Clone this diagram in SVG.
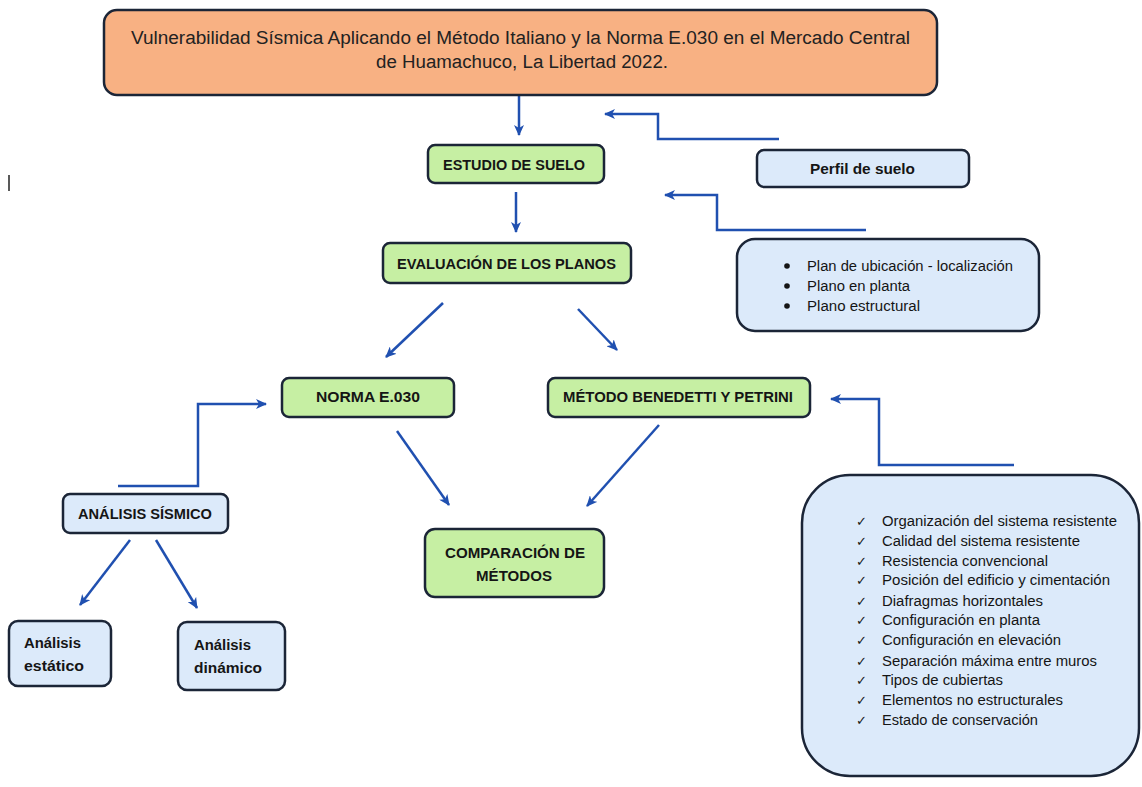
<svg xmlns="http://www.w3.org/2000/svg" width="1142" height="787" viewBox="0 0 1142 787">
<style>
.box{stroke:#1b2537;stroke-width:2.5}
.green{fill:#c6efa3}
.blue{fill:#dceafa}
.orange{fill:#f8b183}
.t{font-family:"Liberation Sans",Arial,sans-serif;fill:#151515}
.b{font-weight:bold;font-size:14px}
.n{font-size:14px}
.title{font-size:18px;fill:#222}
.ck{font-family:"DejaVu Sans",sans-serif;font-size:13px;font-weight:bold;fill:#1a1a1a}
.con{fill:none;stroke:#2050b0;stroke-width:2.5}
</style>
<defs>
<marker id="ah" markerUnits="userSpaceOnUse" markerWidth="12" markerHeight="10" refX="10" refY="5" orient="auto">
<path d="M0,0 L11,5 L0,10 L3,5 Z" fill="#2050b0"/>
</marker>
</defs>
<rect x="0" y="0" width="1142" height="787" fill="#ffffff"/>
<line x1="9" y1="175" x2="9" y2="191" stroke="#222" stroke-width="1.5"/>

<g id="connectors">
<path class="con" d="M519,95 L519,135" marker-end="url(#ah)"/>
<path class="con" d="M779,139 L658,139 L658,114 L605,114" marker-end="url(#ah)"/>
<path class="con" d="M516,192 L516,232" marker-end="url(#ah)"/>
<path class="con" d="M866,230 L717,230 L717,195 L665,195" marker-end="url(#ah)"/>
<path class="con" d="M443,303 L386,357" marker-end="url(#ah)"/>
<path class="con" d="M578,309 L617,350" marker-end="url(#ah)"/>
<path class="con" d="M1014,465 L879,465 L879,399 L831,399" marker-end="url(#ah)"/>
<path class="con" d="M118,486 L198,486 L198,404 L266,404" marker-end="url(#ah)"/>
<path class="con" d="M397,431 L449,505" marker-end="url(#ah)"/>
<path class="con" d="M659,425 L587,506" marker-end="url(#ah)"/>
<path class="con" d="M130,540 L80,605" marker-end="url(#ah)"/>
<path class="con" d="M156,540 L197,608" marker-end="url(#ah)"/>
</g>

<g id="title">
<rect class="box orange" x="104" y="10" width="833" height="85" rx="13"/>
<text class="t title" x="131" y="44" textLength="779" lengthAdjust="spacingAndGlyphs">Vulnerabilidad Sísmica Aplicando el Método Italiano y la Norma E.030 en el Mercado Central</text>
<text class="t title" x="376" y="68" textLength="292" lengthAdjust="spacingAndGlyphs">de Huamachuco, La Libertad 2022.</text>
</g>

<g id="estudio">
<rect class="box green" x="428" y="145" width="176" height="38" rx="7"/>
<text class="t b" x="443" y="170" font-size="15" textLength="142" lengthAdjust="spacingAndGlyphs">ESTUDIO DE SUELO</text>
</g>

<g id="perfil">
<rect class="box blue" x="757" y="150" width="212" height="37" rx="7"/>
<text class="t b" x="810" y="174" font-size="15" textLength="105" lengthAdjust="spacingAndGlyphs">Perfil de suelo</text>
</g>

<g id="evaluacion">
<rect class="box green" x="383" y="243" width="248" height="40" rx="7"/>
<text class="t b" x="397" y="269" textLength="219" lengthAdjust="spacingAndGlyphs">EVALUACIÓN DE LOS PLANOS</text>
</g>

<g id="planos">
<rect class="box blue" x="737" y="239" width="302" height="92" rx="18"/>
<circle cx="787" cy="266" r="2.8" fill="#151515"/>
<circle cx="787" cy="286" r="2.8" fill="#151515"/>
<circle cx="787" cy="306" r="2.8" fill="#151515"/>
<text class="t n" x="807" y="271" textLength="206" lengthAdjust="spacingAndGlyphs">Plan de ubicación - localización</text>
<text class="t n" x="807" y="291" textLength="103" lengthAdjust="spacingAndGlyphs">Plano en planta</text>
<text class="t n" x="807" y="311" textLength="113" lengthAdjust="spacingAndGlyphs">Plano estructural</text>
</g>

<g id="norma">
<rect class="box green" x="282" y="378" width="172" height="39" rx="7"/>
<text class="t b" x="316" y="402" textLength="104" lengthAdjust="spacingAndGlyphs">NORMA E.030</text>
</g>

<g id="metodo">
<rect class="box green" x="548" y="378" width="262" height="39" rx="7"/>
<text class="t b" x="563" y="402" textLength="230" lengthAdjust="spacingAndGlyphs">MÉTODO BENEDETTI Y PETRINI</text>
</g>

<g id="factores">
<rect class="box blue" x="802" y="475" width="337" height="301" rx="48"/>
<g class="ck">
<text x="856" y="526">✓</text>
<text x="856" y="546">✓</text>
<text x="856" y="566">✓</text>
<text x="856" y="585">✓</text>
<text x="856" y="606">✓</text>
<text x="856" y="625">✓</text>
<text x="856" y="645">✓</text>
<text x="856" y="666">✓</text>
<text x="856" y="685">✓</text>
<text x="856" y="705">✓</text>
<text x="856" y="725">✓</text>
</g>
<text class="t n" x="882" y="526" textLength="235" lengthAdjust="spacingAndGlyphs">Organización del sistema resistente</text>
<text class="t n" x="882" y="546" textLength="198" lengthAdjust="spacingAndGlyphs">Calidad del sistema resistente</text>
<text class="t n" x="882" y="566" textLength="166" lengthAdjust="spacingAndGlyphs">Resistencia convencional</text>
<text class="t n" x="882" y="585" textLength="228" lengthAdjust="spacingAndGlyphs">Posición del edificio y cimentación</text>
<text class="t n" x="882" y="606" textLength="161" lengthAdjust="spacingAndGlyphs">Diafragmas horizontales</text>
<text class="t n" x="882" y="625" textLength="158" lengthAdjust="spacingAndGlyphs">Configuración en planta</text>
<text class="t n" x="882" y="645" textLength="179" lengthAdjust="spacingAndGlyphs">Configuración en elevación</text>
<text class="t n" x="882" y="666" textLength="215" lengthAdjust="spacingAndGlyphs">Separación máxima entre muros</text>
<text class="t n" x="882" y="685" textLength="121" lengthAdjust="spacingAndGlyphs">Tipos de cubiertas</text>
<text class="t n" x="882" y="705" textLength="181" lengthAdjust="spacingAndGlyphs">Elementos no estructurales</text>
<text class="t n" x="882" y="725" textLength="156" lengthAdjust="spacingAndGlyphs">Estado de conservación</text>
</g>

<g id="analisis-sismico">
<rect class="box blue" x="63" y="494" width="165" height="39" rx="7"/>
<text class="t b" x="78" y="519" font-size="15" textLength="134" lengthAdjust="spacingAndGlyphs">ANÁLISIS SÍSMICO</text>
</g>

<g id="comparacion">
<rect class="box green" x="425" y="529" width="179" height="68" rx="10"/>
<text class="t b" x="445" y="558" textLength="140" lengthAdjust="spacingAndGlyphs">COMPARACIÓN DE</text>
<text class="t b" x="476" y="581" textLength="76" lengthAdjust="spacingAndGlyphs">MÉTODOS</text>
</g>

<g id="estatico">
<rect class="box blue" x="9" y="621" width="102" height="65" rx="9"/>
<text class="t b" x="24" y="648" font-size="15" textLength="57" lengthAdjust="spacingAndGlyphs">Análisis</text>
<text class="t b" x="24" y="671" font-size="15" textLength="60" lengthAdjust="spacingAndGlyphs">estático</text>
</g>

<g id="dinamico">
<rect class="box blue" x="178" y="622" width="107" height="68" rx="9"/>
<text class="t b" x="194" y="650" font-size="15" textLength="57" lengthAdjust="spacingAndGlyphs">Análisis</text>
<text class="t b" x="194" y="673" font-size="15" textLength="68" lengthAdjust="spacingAndGlyphs">dinámico</text>
</g>
</svg>
